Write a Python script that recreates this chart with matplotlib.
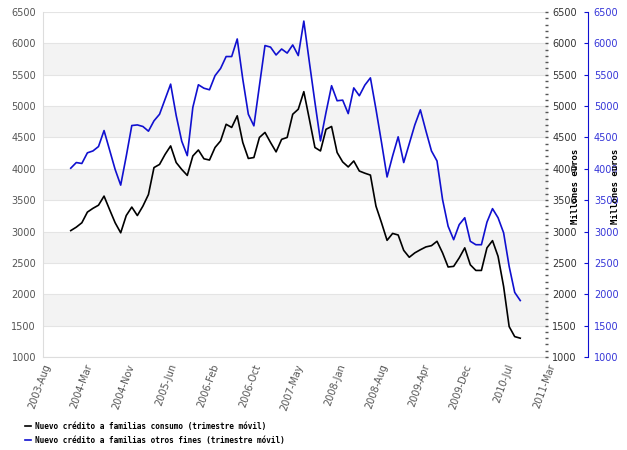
import numpy as np
import matplotlib
matplotlib.use("Agg")
import matplotlib.pyplot as plt

# month offsets from 2003-Aug; series run monthly Jan 2004 .. Oct 2010
months = np.arange(5, 87)

consumo = [3015, 3070, 3140, 3310, 3370, 3420, 3565, 3350, 3140, 2980,
           3255, 3390, 3255, 3405, 3590, 4020, 4070, 4230, 4365, 4100,
           3990, 3895, 4205, 4300, 4160, 4140, 4340, 4445, 4710, 4660,
           4845, 4420, 4165, 4180, 4500, 4580, 4420, 4270, 4470, 4500,
           4870, 4950, 5230, 4790, 4340, 4285, 4630, 4675, 4260, 4110,
           4030, 4125, 3965, 3930, 3900, 3405, 3140, 2860, 2970, 2945,
           2700, 2590, 2660, 2710, 2755, 2775, 2845, 2660, 2435, 2445,
           2580, 2740, 2470, 2380, 2380, 2740, 2855, 2605, 2125, 1485,
           1325, 1300]

otros = [4010, 4100, 4085, 4255, 4285, 4355, 4610, 4300, 3990, 3740,
         4200, 4690, 4700, 4675, 4600, 4765, 4870, 5110, 5350, 4850,
         4440, 4210, 4980, 5340, 5285, 5260, 5485, 5600, 5790, 5790,
         6070, 5430, 4870, 4685, 5325, 5965, 5940, 5815, 5910, 5845,
         5975, 5805, 6355, 5700, 5060, 4445, 4900, 5325, 5085, 5095,
         4880, 5290, 5165, 5335, 5450, 4950, 4420, 3870, 4205, 4510,
         4100, 4400, 4700, 4940, 4605, 4285, 4125, 3510, 3085, 2870,
         3110, 3220, 2845, 2790, 2790, 3150, 3365, 3220, 2980, 2445,
         2030, 1900]

tick_labels = ["2003-Aug", "2004-Mar", "2004-Nov", "2005-Jun", "2006-Feb",
               "2006-Oct", "2007-May", "2008-Jan", "2008-Aug", "2009-Apr",
               "2009-Dec", "2010-Jul", "2011-Mar"]

label_consumo = "Nuevo crédito a familias consumo (trimestre móvil)"
label_otros = "Nuevo crédito a familias otros fines (trimestre móvil)"
unit = "Millones euros"

ymin, ymax = 1000, 6500
blue = "#1010d0"
gray_txt = "#555555"
W, H = 627, 450

fig = plt.figure(figsize=(6.27, 4.5), dpi=100)
ax = fig.add_axes([43 / W, 1 - 357 / H, 505 / W, 345 / H])

# alternating bands and grid
for k, lo in enumerate(range(ymin, ymax, 500)):
    if k % 2 == 0:
        continue
    ax.axhspan(lo, lo + 500, color="#f3f3f3", lw=0, zorder=0)
for v in range(ymin, ymax + 1, 500):
    ax.axhline(v, color="#e4e4e4", lw=0.8, zorder=0.5)

l1, = ax.plot(months, consumo, color="black", lw=1.2, zorder=3)
l2, = ax.plot(months, otros, color=blue, lw=1.2, zorder=3)

ax.set_xlim(0, 91)
ax.set_ylim(ymin, ymax)
ax.set_xticks(np.linspace(0, 91, len(tick_labels)))
ax.set_xticklabels(tick_labels, rotation=70, ha="right", rotation_mode="anchor",
                   fontsize=7, color=gray_txt)
ax.set_yticks(range(ymin, ymax + 1, 500))
ax.tick_params(axis="y", length=0, labelsize=7, labelcolor=gray_txt, pad=5)
ax.tick_params(axis="x", length=0, pad=4)
for s in ["top", "right"]:
    ax.spines[s].set_visible(False)
for s in ["left", "bottom"]:
    ax.spines[s].set_color("#dddddd")

# first right axis (black, dotted minor ticks)
r1 = ax.twinx()
r1.set_ylim(ymin, ymax)
r1.set_yticks(range(ymin, ymax + 1, 500))
r1.set_yticks(range(ymin, ymax + 1, 100), minor=True)
for s in ["top", "left", "bottom", "right"]:
    r1.spines[s].set_visible(False)
r1.tick_params(axis="y", which="both", direction="in", color="#555555",
               length=2, width=1, labelsize=7, labelcolor="#333333", pad=3)

# second right axis (blue)
r2 = ax.twinx()
r2.set_ylim(ymin, ymax)
r2.set_yticks(range(ymin, ymax + 1, 500))
r2.spines["right"].set_position(("outward", 29))
r2.spines["right"].set_color(blue)
for s in ["top", "left", "bottom"]:
    r2.spines[s].set_visible(False)
r2.tick_params(axis="y", direction="in", color=blue, length=3,
               labelsize=7, labelcolor="#3535d8", pad=4)

for xp in (575, 615):
    fig.text(xp / W, 1 - 186 / H, unit, rotation=90, ha="center", va="center",
             family="DejaVu Sans Mono", fontweight="bold", fontsize=6.5)

fig.legend([l1, l2], [label_consumo, label_otros], loc="upper left",
           bbox_to_anchor=(18 / W, 1 - 415 / H), frameon=False,
           handlelength=0.8, handletextpad=0.5, labelspacing=0.6,
           prop={"family": "DejaVu Sans Mono", "weight": "bold", "size": 5.6})

fig.savefig("out.png", dpi=100)
